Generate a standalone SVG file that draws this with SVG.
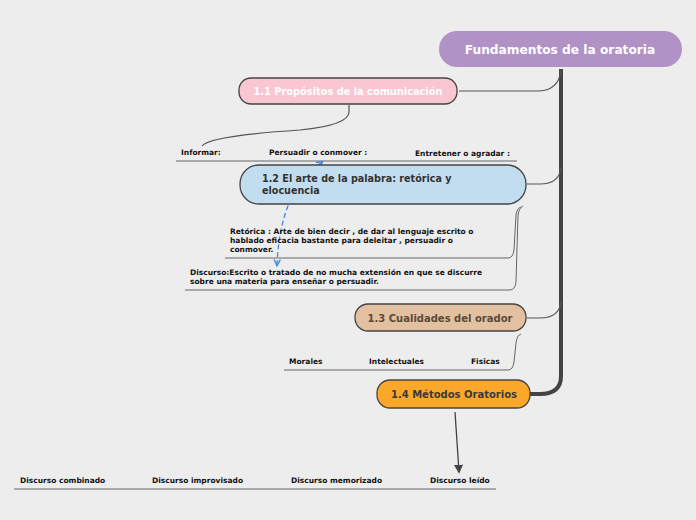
<svg xmlns="http://www.w3.org/2000/svg" width="696" height="520" viewBox="0 0 696 520">
<defs>
<style>
.lbl{font-family:"DejaVu Sans",Verdana,sans-serif;font-weight:bold;font-size:7.5px;fill:#111}
.nt{font-family:"DejaVu Sans",Verdana,sans-serif;font-weight:bold;font-size:10px}
.ul{stroke:#666;stroke-width:1;fill:none}
.br{stroke:#555;stroke-width:1.2;fill:none}
.node{stroke:#444;stroke-width:1.3}
</style>
<marker id="ah" viewBox="0 0 10 10" refX="8" refY="5" markerWidth="7" markerHeight="7" orient="auto-start-reverse">
<path d="M0,0 L10,5 L0,10 z" fill="#444"/>
</marker>
<marker id="bh" viewBox="0 0 10 10" refX="8" refY="5" markerWidth="6" markerHeight="6" orient="auto-start-reverse">
<path d="M1,1 L9,5 L1,9" fill="none" stroke="#3a8be0" stroke-width="1.8"/>
</marker>
</defs>
<rect width="696" height="520" fill="#ededed"/>
<g id="connectors">
<path d="M561,69 V376 Q561,394 540,394 H530" stroke="#444" stroke-width="4" fill="none"/>
<path class="br" d="M459,91 H537 Q559,91 561,70"/>
<path class="br" d="M527,184 H540 Q559,184 561,168"/>
<path class="br" d="M527,318 H540 Q559,318 561,302"/>
<path class="br" d="M349,105 V112 Q349,125 300,130 Q210,136 202,146"/>
<path class="ul" d="M176,161 H517"/>
<path class="ul" d="M225,258 H508 Q513,258 514,250 L516,215 Q517,208 521,207"/>
<path class="ul" d="M185,290 H510 Q515,290 516,282 L518,215 Q519,208 523,206"/>
<path class="ul" d="M284,370 H508 Q513,370 514,362 L516,343 Q517,335 521,334"/>
<path class="ul" d="M14,489 H496"/>
<path d="M455,412 L459,472" stroke="#444" stroke-width="1.3" fill="none" marker-end="url(#ah)"/>
<path d="M322,162 Q280,190 277,265" stroke="#3a8be0" stroke-width="1.3" stroke-dasharray="5,3" fill="none" marker-start="url(#bh)" marker-end="url(#bh)"/>
</g>
<g id="root">
<rect x="439" y="31" width="243" height="36" rx="18" fill="#b192c6"/>
<text class="nt" x="560" y="53.5" text-anchor="middle" fill="#fff" style="font-size:12.2px">Fundamentos de la oratoria</text>
</g>
<g id="n11">
<rect class="node" x="239" y="78" width="218" height="26" rx="12" fill="#f9c6d2"/>
<text class="nt" x="348" y="95" text-anchor="middle" fill="#fff" style="font-size:9.8px">1.1 Propósitos de la comunicación</text>
</g>
<g id="n11items">
<text class="lbl" x="181" y="155">Informar:</text>
<text class="lbl" x="269" y="155">Persuadir o conmover :</text>
<text class="lbl" x="415" y="156">Entretener o agradar :</text>
</g>
<g id="n12">
<rect class="node" x="240" y="165" width="286" height="39" rx="19" fill="#c2ddf0"/>
<text class="nt" x="262" y="182" fill="#333" style="font-size:9.6px">1.2 El arte de la palabra: retórica y</text>
<text class="nt" x="262" y="194" fill="#333" style="font-size:9.6px">elocuencia</text>
</g>
<g id="n12items">
<text class="lbl" x="230" y="234">Retórica : Arte de bien decir , de dar al lenguaje escrito o</text>
<text class="lbl" x="230" y="243">hablado eficacia bastante para deleitar , persuadir o</text>
<text class="lbl" x="230" y="252">conmover.</text>
<text class="lbl" x="190" y="275">Discurso:Escrito o tratado de no mucha extensión en que se discurre</text>
<text class="lbl" x="190" y="284">sobre una materia para enseñar o persuadir.</text>
</g>
<g id="n13">
<rect class="node" x="355" y="304" width="171" height="27" rx="13" fill="#e2c0a0"/>
<text class="nt" x="440" y="321.5" text-anchor="middle" fill="#5b4a3c">1.3 Cualidades del orador</text>
</g>
<g id="n13items">
<text class="lbl" x="289" y="364">Morales</text>
<text class="lbl" x="369" y="364">Intelectuales</text>
<text class="lbl" x="471" y="364">Fisicas</text>
</g>
<g id="n14">
<rect class="node" x="377" y="380" width="153" height="28" rx="13" fill="#fba82a"/>
<text class="nt" x="454" y="397.5" text-anchor="middle" fill="#3a3a3a">1.4 Métodos Oratorios</text>
</g>
<g id="n14items">
<text class="lbl" x="20" y="483">Discurso combinado</text>
<text class="lbl" x="152" y="483">Discurso improvisado</text>
<text class="lbl" x="291" y="483">Discurso memorizado</text>
<text class="lbl" x="430" y="483">Discurso leído</text>
</g>
</svg>
